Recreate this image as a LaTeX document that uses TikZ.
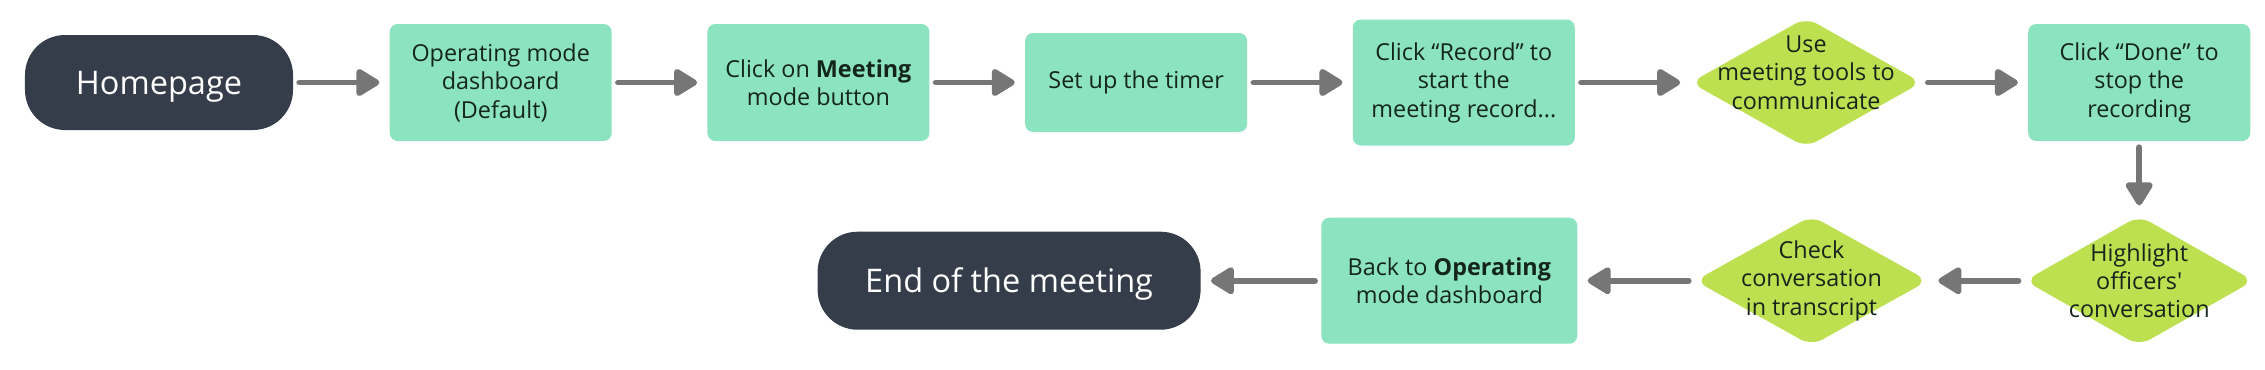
\documentclass[tikz,border=0pt]{standalone}
\usepackage{fontspec}
\setmainfont{Open Sans}
\usepackage{xcolor}
\usepackage{tikz}
\usetikzlibrary{positioning, arrows.meta, shapes.geometric}
\definecolor{midnight}{HTML}{353D4B}
\definecolor{mint}{HTML}{8CE3C0}
\definecolor{lime}{HTML}{BCE050}
\definecolor{ink}{HTML}{14261C}
\definecolor{pipe}{HTML}{767676}
\tikzset{
  pill/.style={fill=midnight, rounded corners=8mm, text=white, align=center, font=\fontsize{18.5}{22}\selectfont, minimum width=5.36cm, minimum height=1.9cm, inner sep=0pt, text height=0.62cm, text depth=0.14cm},
  action/.style={fill=mint, rounded corners=1.6mm, text=ink, align=center, font=\fontsize{13.3}{16.2}\selectfont, minimum width=4.44cm, minimum height=2.34cm, inner sep=0pt},
  decision/.style={diamond, fill=lime, rounded corners=2.5mm, text=ink, align=center, font=\fontsize{13.3}{16.2}\selectfont, minimum width=4.62cm, minimum height=2.6cm, inner sep=-8mm},
  arrow/.style={-{Triangle[length=5.2mm, width=6mm, round]}, line width=3.4pt, draw=pipe, line cap=round, shorten <=1.2mm, shorten >=2mm},
}

\begin{document}
\begin{tikzpicture}
  \useasboundingbox (0,0) rectangle (45.3,-7.38);
  % Top row
  \node[pill] (home) at (3.18,-1.65) {Homepage};
  \node[action, right=1.92cm of home] (opmode)
    {Operating mode\\dashboard\\(Default)};
  \node[action, right=1.9cm of opmode] (meeting)
    {Click on \textbf{Meeting}\\mode button};
  \node[action, right=1.9cm of meeting, minimum height=1.98cm] (timer)
    {Set up the timer};
  \node[action, right=2.1cm of timer, minimum height=2.52cm] (record)
    {Click “Record” to\\start the\\meeting record...};
  \node[decision, right=2.3cm of record, text depth=0.4cm] (tools)
    {Use\\meeting tools to\\communicate};
  \node[action, right=2.12cm of tools] (done)
    {Click “Done” to\\stop the\\recording};
  % Bottom row, right to left
  \node[decision, below=1.48cm of done, minimum width=4.58cm] (highlight)
    {Highlight\\officers\textquotesingle\\conversation};
  \node[decision, left=1.92cm of highlight, minimum width=4.66cm] (check)
    {Check\\conversation\\in transcript};
  \node[action, left=2.34cm of check, minimum width=5.12cm, minimum height=2.52cm] (back)
    {Back to \textbf{Operating}\\mode dashboard};
  \node[pill, left=2.4cm of back, minimum width=7.66cm, minimum height=1.96cm] (finish)
    {End of the meeting};

  % Edges
  \draw[arrow] (home) -- (opmode);
  \draw[arrow] (opmode) -- (meeting);
  \draw[arrow] (meeting) -- (timer);
  \draw[arrow] (timer) -- (record);
  \draw[arrow] (record) -- (tools);
  \draw[arrow] (tools) -- (done);
  \draw[arrow] (done) -- (highlight);
  \draw[arrow] (highlight) -- (check);
  \draw[arrow] (check) -- (back);
  \draw[arrow] (back) -- (finish);
\end{tikzpicture}
\end{document}
